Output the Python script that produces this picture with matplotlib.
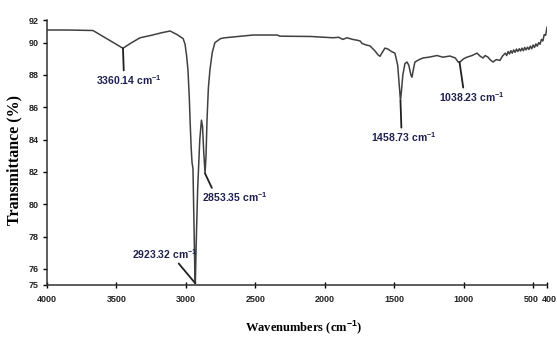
import matplotlib
matplotlib.use('Agg')
import matplotlib.pyplot as plt
import numpy as np

# FTIR spectrum
wavenumber = [4000, 3850, 3669, 3600, 3520, 3453, 3400, 3330, 3250, 3180,
              3114, 3064, 3020, 3006, 2995, 2985, 2975, 2970, 2962, 2956,
              2949, 2942, 2936, 2932, 2926, 2915, 2900, 2888, 2880, 2872,
              2862, 2855, 2848, 2838, 2827, 2810, 2791, 2750, 2719, 2600,
              2517, 2344, 2323, 2100, 1941, 1900, 1870, 1840, 1800, 1768,
              1745, 1732, 1700, 1675, 1640, 1617, 1603, 1585, 1567, 1545,
              1520, 1495, 1475, 1462, 1455, 1448, 1438, 1423, 1408, 1395,
              1380, 1372, 1363, 1351, 1320, 1293, 1250, 1221, 1192, 1150,
              1099, 1060, 1040, 1027, 1000, 976, 940, 904, 880, 861,
              845, 825, 810, 789, 765, 739, 725, 717,
              700, 690, 680, 670, 660, 650, 640, 630, 620, 610,
              600, 590, 580, 570, 560, 550, 540, 530, 520, 510,
              500, 490, 480, 470, 460, 450, 440, 430, 420, 410, 400]
transmittance = [90.78, 90.78, 90.75, 90.4, 90.0, 89.65, 89.95, 90.3, 90.45, 90.6,
                 90.72, 90.5, 90.25, 89.9, 89.2, 88.3, 86.5, 85.2, 83.5, 82.6,
                 82.2, 79.0, 76.0, 75.1, 77.5, 81.0, 84.0, 85.2, 84.8, 83.3,
                 81.9, 83.0, 85.2, 87.2, 88.3, 89.4, 90.0, 90.25, 90.3, 90.4,
                 90.47, 90.47, 90.4, 90.38, 90.3, 90.33, 90.2, 90.3, 90.2, 90.15,
                 90.1, 89.95, 89.85, 89.8, 89.5, 89.25, 89.15, 89.4, 89.66, 89.6,
                 89.45, 89.35, 88.6, 87.2, 86.4, 87.0, 88.0, 88.7, 88.8, 88.6,
                 88.0, 87.86, 88.3, 88.8, 88.95, 89.05, 89.1, 89.15, 89.2, 89.1,
                 89.17, 89.05, 88.8, 88.8, 89.0, 89.1, 89.2, 89.35, 89.15, 89.05,
                 89.2, 89.1, 88.95, 88.8, 88.95, 88.9, 89.1, 89.2,
                 89.35, 89.2, 89.45, 89.3, 89.5, 89.35, 89.55, 89.4, 89.6, 89.45,
                 89.62, 89.48, 89.66, 89.5, 89.7, 89.55, 89.72, 89.58, 89.78, 89.62,
                 89.85, 89.7, 89.92, 89.78, 90.0, 89.9, 90.2, 90.1, 90.5, 90.45, 90.95]

# peak labels: peak point on the curve and where the label text starts (left edge)
peak_labels = ['3360.14', '2923.32', '2853.35', '1458.73', '1038.23']
peak_x = [3453, 2932, 2862, 1455, 1030]
peak_y = [89.65, 75.1, 81.9, 86.4, 88.8]
label_x = [3650, 3390, 2884, 1670, 1180]
label_y = [87.68, 76.93, 80.41, 84.14, 86.62]
label_relpos = [(0.43, 1.0), (0.68, 0.0), (0.17, 1.0), (0.47, 1.0), (0.38, 1.0)]

xticks = [4000, 3500, 3000, 2500, 2000, 1500, 1000, 500, 400]
xtick_labels = ['4000', '3500', '3000', '2500', '2000', '1500', '1000', '500', '400']
# the last two labels are drawn by hand, nudged apart (in points)
xlabel_nudge = [-1.5, 1.5]
ytick_pos = [75, 76, 78, 80, 82, 84, 86, 88, 90, 91.4]
ytick_labels = ['75', '76', '78', '80', '82', '84', '86', '88', '90', '92']

plt.rcParams['mathtext.fontset'] = 'custom'
plt.rcParams['mathtext.bf'] = 'Liberation Sans:bold'
plt.rcParams['mathtext.rm'] = 'Liberation Sans'

sans = ['Liberation Sans', 'DejaVu Sans']
serif = ['Liberation Serif', 'DejaVu Serif']
navy = '#1f2050'

fig = plt.figure(figsize=(5.57, 3.41), dpi=100)
ax = fig.add_axes([47 / 557, 1 - 285 / 341, 500 / 557, 265 / 341])

ax.plot(wavenumber, transmittance, color='#404040', lw=1.1)

for lab, px, py, tx, ty, rp in zip(peak_labels, peak_x, peak_y, label_x, label_y, label_relpos):
    ax.annotate(lab + r' cm$^{\mathbf{-1}}$', xy=(px, py), xytext=(tx, ty),
                ha='left', va='center', fontsize=7.5, fontweight='bold',
                family=sans, color=navy,
                arrowprops=dict(arrowstyle='-', color='#202020', lw=1.3,
                                shrinkA=0, shrinkB=0, relpos=rp))

ax.set_xlim(4000, 400)
ax.set_ylim(75, 91.4)
ax.set_xticks(xticks)
ax.set_xticklabels(xtick_labels[:-2] + ['', ''])
ax.set_yticks(ytick_pos)
ax.set_yticklabels(ytick_labels)

for lbl in ax.get_xticklabels() + ax.get_yticklabels():
    lbl.set_family(sans)
    lbl.set_fontweight('bold')
    lbl.set_fontsize(6.5)
    lbl.set_color('#222222')

for xv, lab, dx in zip(xticks[-2:], xtick_labels[-2:], xlabel_nudge):
    ax.annotate(lab, xy=(xv, 0), xycoords=('data', 'axes fraction'),
                xytext=(dx, -7.5), textcoords='offset points',
                ha='center', va='top', fontsize=6.5, fontweight='bold',
                family=sans, color='#222222')

ax.tick_params(axis='x', direction='inout', length=5, width=1, pad=5)
ax.tick_params(axis='y', direction='out', length=3, width=1, pad=3)

ax.spines['top'].set_visible(False)
ax.spines['right'].set_visible(False)
for s in ['left', 'bottom']:
    ax.spines[s].set_color('#303030')
    ax.spines[s].set_linewidth(1.1)

ax.set_ylabel('Transmittance (%)', family=serif, fontweight='bold', fontsize=11.5)
ax.yaxis.set_label_coords(-0.05, 0.47)
ax.set_xlabel(r'Wavenumbers (cm$^{\mathbf{-1}}$)', family=serif, fontweight='bold',
              fontsize=9)
ax.xaxis.set_label_coords(0.514, -0.125)

fig.savefig('out.png', dpi=100)
